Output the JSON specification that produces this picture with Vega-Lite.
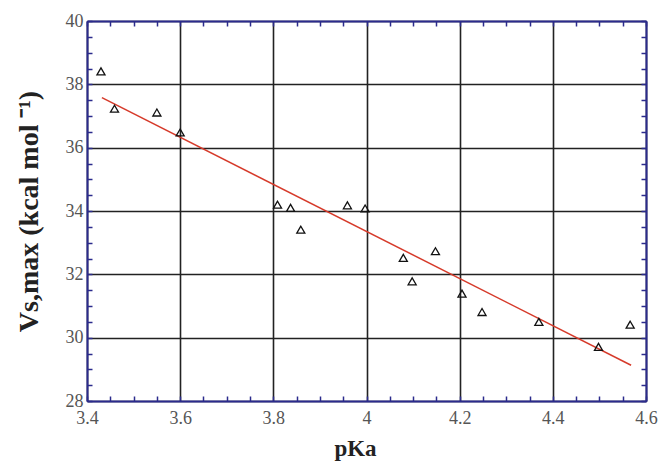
{
  "$schema": "https://vega.github.io/schema/vega-lite/v6.json",
  "width": 559,
  "height": 380,
  "autosize": {"type": "none"},
  "padding": {"left": 87, "top": 21, "right": 17, "bottom": 69},
  "background": "white",
  "config": {
    "view": {"stroke": null},
    "font": "Times New Roman, Liberation Serif, serif",
    "axis": {
      "labelFont": "Times New Roman, Liberation Serif, serif",
      "titleFont": "Times New Roman, Liberation Serif, serif",
      "labelFlush": false,
      "labelOverlap": false,
      "domainColor": "#2b2b8c",
      "domainWidth": 2,
      "tickColor": "#2b2b8c",
      "tickWidth": 1.5,
      "gridColor": "#222222",
      "gridWidth": 1.6
    }
  },
  "datasets": {
    "pts": [
      {"pKa": 3.43, "Vs": 38.41},
      {"pKa": 3.459, "Vs": 37.23},
      {"pKa": 3.55, "Vs": 37.11},
      {"pKa": 3.6, "Vs": 36.48},
      {"pKa": 3.809, "Vs": 34.2},
      {"pKa": 3.837, "Vs": 34.1},
      {"pKa": 3.859, "Vs": 33.41},
      {"pKa": 3.959, "Vs": 34.18},
      {"pKa": 3.997, "Vs": 34.08},
      {"pKa": 4.079, "Vs": 32.52},
      {"pKa": 4.098, "Vs": 31.78},
      {"pKa": 4.148, "Vs": 32.73},
      {"pKa": 4.205, "Vs": 31.39},
      {"pKa": 4.248, "Vs": 30.81},
      {"pKa": 4.37, "Vs": 30.5},
      {"pKa": 4.498, "Vs": 29.71},
      {"pKa": 4.566, "Vs": 30.41}
    ],
    "fit": [
      {"pKa": 3.432, "Vs": 37.58},
      {"pKa": 4.568, "Vs": 29.13}
    ]
  },
  "layer": [
    {
      "data": {"name": "fit"},
      "mark": {"type": "line", "color": "#d63a2a", "strokeWidth": 1.5},
      "encoding": {
        "x": {
          "field": "pKa", "type": "quantitative",
          "scale": {"domain": [3.4, 4.6], "nice": false, "zero": false},
          "axis": {
            "orient": "bottom",
            "values": [3.4,3.45,3.5,3.55,3.6,3.65,3.7,3.75,3.8,3.85,3.9,3.95,4,4.05,4.1,4.15,4.2,4.25,4.3,4.35,4.4,4.45,4.5,4.55,4.6],
            "format": "~g",
            "labelExpr": "indexof([3.4,3.6,3.8,4,4.2,4.4,4.6], datum.value) >= 0 ? datum.label : ''",
            "grid": true,
            "gridOpacity": {"condition": {"test": "indexof([3.4,3.6,3.8,4,4.2,4.4,4.6], datum.value) >= 0", "value": 1}, "value": 0},
            "tickSize": -5,
            "labelFontSize": 18,
            "labelColor": "#555555",
            "labelPadding": 13,
            "title": "pKa",
            "titleFontSize": 23,
            "titleFontWeight": "bold",
            "titleColor": "#222222",
            "titlePadding": 10,
            "titleX": 268
          }
        },
        "y": {
          "field": "Vs", "type": "quantitative",
          "scale": {"domain": [28, 40], "nice": false, "zero": false},
          "axis": {
            "orient": "left",
            "values": [28,28.5,29,29.5,30,30.5,31,31.5,32,32.5,33,33.5,34,34.5,35,35.5,36,36.5,37,37.5,38,38.5,39,39.5,40],
            "format": "~g",
            "labelExpr": "datum.value % 2 == 0 ? datum.label : ''",
            "grid": true,
            "gridOpacity": {"condition": {"test": "datum.value % 2 == 0", "value": 1}, "value": 0},
            "tickSize": -5,
            "labelFontSize": 18,
            "labelColor": "#555555",
            "labelPadding": 9,
            "title": "Vs,max (kcal mol ⁻¹)",
            "titleFontSize": 28,
            "titleFontWeight": "bold",
            "titleColor": "#222222",
            "titlePadding": 22
          }
        }
      }
    },
    {
      "data": {"name": "pts"},
      "mark": {"type": "point", "shape": "triangle-up", "filled": false, "stroke": "#111111", "strokeWidth": 1.3, "size": 65, "opacity": 1},
      "encoding": {
        "x": {
          "field": "pKa", "type": "quantitative",
          "scale": {"domain": [3.4, 4.6], "nice": false, "zero": false},
          "axis": {
            "orient": "top",
            "values": [3.4,3.45,3.5,3.55,3.6,3.65,3.7,3.75,3.8,3.85,3.9,3.95,4,4.05,4.1,4.15,4.2,4.25,4.3,4.35,4.4,4.45,4.5,4.55,4.6],
            "labels": false,
            "grid": false,
            "tickSize": -5,
            "title": null
          }
        },
        "y": {
          "field": "Vs", "type": "quantitative",
          "scale": {"domain": [28, 40], "nice": false, "zero": false},
          "axis": {
            "orient": "right",
            "values": [28,28.5,29,29.5,30,30.5,31,31.5,32,32.5,33,33.5,34,34.5,35,35.5,36,36.5,37,37.5,38,38.5,39,39.5,40],
            "labels": false,
            "grid": false,
            "tickSize": -5,
            "title": null
          }
        }
      }
    }
  ],
  "resolve": {"axis": {"x": "independent", "y": "independent"}}
}
